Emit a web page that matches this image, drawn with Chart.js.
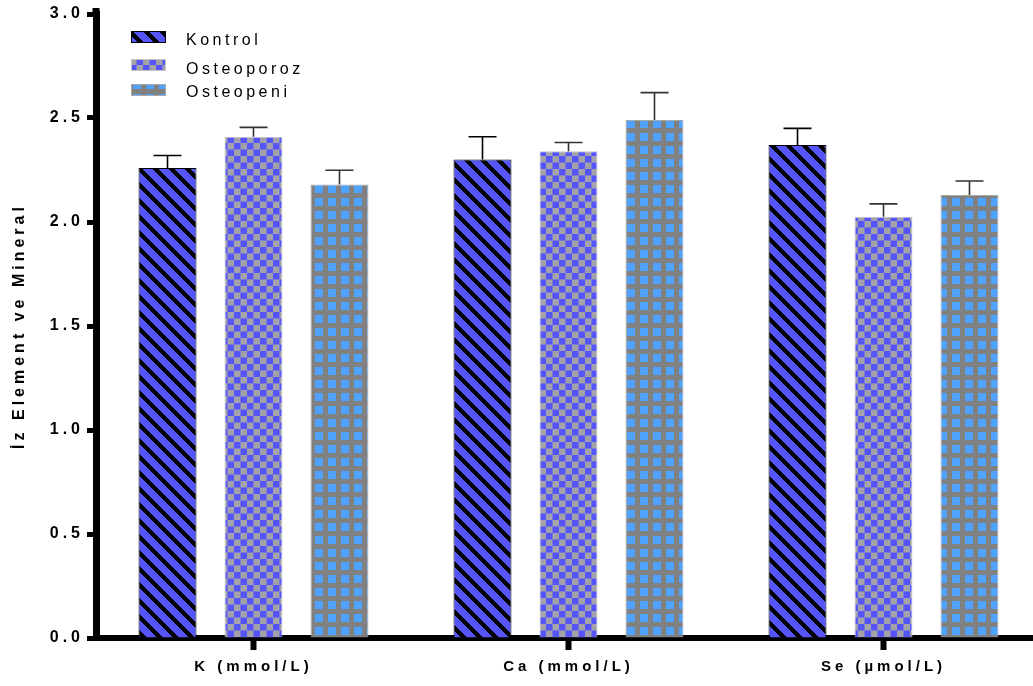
<!DOCTYPE html>
<html>
<head>
<meta charset="utf-8">
<script src="https://cdn.jsdelivr.net/npm/chart.js@4/dist/chart.umd.min.js"></script>
<style>
  html, body { margin: 0; padding: 0; background: #fff; overflow: hidden; }
  canvas { display: block; }
</style>
</head>
<body>
<canvas id="chart" width="1041" height="686"></canvas>
<script>
// Trace element and mineral levels by group (mean + upper SD bar)
const categories = ['K (mmol/L)', 'Ca (mmol/L)', 'Se (µmol/L)'];
const groupNames = ['Kontrol', 'Osteoporoz', 'Osteopeni'];

const kontrol    = [2.26, 2.30, 2.37];
const osteoporoz = [2.41, 2.34, 2.025];
const osteopeni  = [2.18, 2.49, 2.13];

const kontrolErr    = [0.06, 0.11, 0.08];
const osteoporozErr = [0.045, 0.042, 0.062];
const osteopeniErr  = [0.069, 0.132, 0.067];

const yTickLabels = ['0.0', '0.5', '1.0', '1.5', '2.0', '2.5', '3.0'];

const FONT = "'Liberation Sans', Arial, Helvetica, sans-serif";

// ---- fill patterns ----
function tile(size, paint) {
  const c = document.createElement('canvas');
  c.width = c.height = size;
  paint(c.getContext('2d'), size);
  return c.getContext('2d').createPattern(c, 'repeat');
}

// blue with black "\" diagonal stripes
const stripePattern = tile(16, (g, n) => {
  const img = g.createImageData(n, n);
  for (let y = 0; y < n; y++) {
    for (let x = 0; x < n; x++) {
      const k = (((x - y) % n) + n) % n;
      const i = (y * n + x) * 4;
      const dark = k < 6;
      img.data[i]     = dark ? 0 : 85;
      img.data[i + 1] = dark ? 0 : 85;
      img.data[i + 2] = dark ? 0 : 250;
      img.data[i + 3] = 255;
    }
  }
  g.putImageData(img, 0, 0);
});

// blue / grey checkerboard
const checkerPattern = tile(13, (g, n) => {
  g.fillStyle = '#a2a2a8';
  g.fillRect(0, 0, n, n);
  g.fillStyle = '#5555fb';
  g.fillRect(0, 0, n / 2, n / 2);
  g.fillRect(n / 2, n / 2, n / 2, n / 2);
});

// grey grid with light-blue squares
const squarePattern = tile(13, (g, n) => {
  g.fillStyle = '#818181';
  g.fillRect(0, 0, n, n);
  g.fillStyle = '#4fa3fd';
  g.fillRect(3, 3, 8, 8);
});

// ---- plugins ----
const spacing = {
  id: 'spacing',
  beforeDraw(chart) { chart.ctx.letterSpacing = '4px'; }
};

// short run of the y axis line above the top tick
const axisCap = {
  id: 'axisCap',
  afterDraw(chart) {
    const { ctx, chartArea } = chart;
    ctx.save();
    ctx.fillStyle = '#000';
    ctx.fillRect(chartArea.left - 3.5, chartArea.top - 6, 7, 7);
    ctx.restore();
  }
};

const errorBars = {
  id: 'errorBars',
  afterDatasetsDraw(chart) {
    const ctx = chart.ctx;
    const y = chart.scales.y;
    chart.data.datasets.forEach((ds, i) => {
      const meta = chart.getDatasetMeta(i);
      meta.data.forEach((bar, j) => {
        const base = y.getPixelForValue(ds.data[j]);
        const top = y.getPixelForValue(ds.data[j] + ds.errors[j]);
        ctx.save();
        ctx.strokeStyle = ds.errorColor;
        ctx.lineWidth = 1.6;
        ctx.beginPath();
        ctx.moveTo(bar.x, base);
        ctx.lineTo(bar.x, top);
        ctx.moveTo(bar.x - 14, top);
        ctx.lineTo(bar.x + 14, top);
        ctx.stroke();
        ctx.restore();
      });
    });
  }
};

const insetLegend = {
  id: 'insetLegend',
  afterDraw(chart) {
    const ctx = chart.ctx;
    const rows = [
      { box: [131, 31, 35, 12], textY: 45 },
      { box: [131, 59, 35, 12], textY: 74 },
      { box: [131, 84, 35, 12], textY: 97 }
    ];
    chart.data.datasets.forEach((ds, i) => {
      const r = rows[i];
      const [bx, by, bw, bh] = r.box;
      ctx.save();
      ctx.fillStyle = ds.backgroundColor;
      ctx.fillRect(bx, by, bw, bh);
      ctx.strokeStyle = ds.borderColor;
      ctx.lineWidth = 1;
      ctx.strokeRect(bx + 0.5, by + 0.5, bw - 1, bh - 1);
      ctx.fillStyle = '#000';
      ctx.letterSpacing = '3.5px';
      ctx.font = '16px ' + FONT;
      ctx.textAlign = 'left';
      ctx.textBaseline = 'alphabetic';
      ctx.fillText(ds.label, 186, r.textY);
      ctx.restore();
    });
  }
};

new Chart(document.getElementById('chart'), {
  type: 'bar',
  data: {
    labels: categories,
    datasets: [
      { label: groupNames[0], data: kontrol, errors: kontrolErr, errorColor: '#000',
        backgroundColor: stripePattern, borderColor: '#000', borderWidth: 1 },
      { label: groupNames[1], data: osteoporoz, errors: osteoporozErr, errorColor: '#333',
        backgroundColor: checkerPattern, borderColor: '#c4c4c4', borderWidth: 1 },
      { label: groupNames[2], data: osteopeni, errors: osteopeniErr, errorColor: '#333',
        backgroundColor: squarePattern, borderColor: '#a8a8a8', borderWidth: 1 }
    ]
  },
  options: {
    responsive: false,
    animation: false,
    devicePixelRatio: 1,
    layout: { padding: { top: 14, right: 0, bottom: 0, left: 0 } },
    categoryPercentage: 0.819,
    barPercentage: 0.674,
    plugins: {
      legend: { display: false },
      tooltip: { enabled: false }
    },
    scales: {
      x: {
        afterFit(scale) { scale.height = 48; },
        grid: { display: true, drawOnChartArea: false, offset: false,
                tickLength: 12, tickWidth: 6, tickColor: '#000' },
        border: { display: true, color: '#000', width: 6 },
        ticks: { color: '#000', padding: 8, maxRotation: 0,
                 font: { family: FONT, size: 15, weight: 'bold' } }
      },
      y: {
        min: 0,
        max: 3,
        afterFit(scale) { scale.width = 96; },
        grid: { display: true, drawOnChartArea: false,
                tickLength: 9, tickWidth: 5, tickColor: '#000' },
        border: { display: true, color: '#000', width: 7 },
        ticks: {
          stepSize: 0.5,
          color: '#000',
          padding: 3,
          font: { family: FONT, size: 16, weight: 'bold' },
          callback: (v, i) => yTickLabels[i]
        },
        title: {
          display: true,
          text: 'İz Element ve Mineral',
          color: '#000',
          padding: { top: 10, bottom: 0 },
          font: { family: FONT, size: 16, weight: 'bold' }
        }
      }
    }
  },
  plugins: [spacing, errorBars, axisCap, insetLegend]
});
</script>
</body>
</html>
